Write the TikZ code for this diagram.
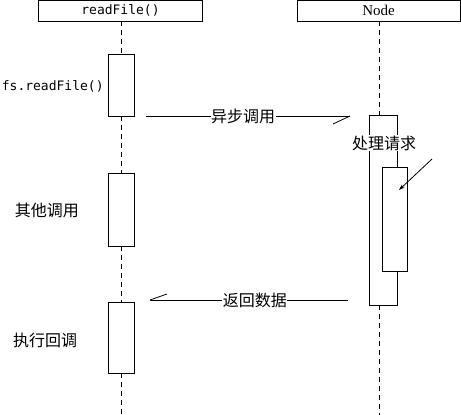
\documentclass[tikz,border=0pt]{standalone}
\usepackage{fontspec}
\setmainfont{Liberation Serif}
\newfontfamily\cjk{Noto Sans CJK SC}
\newfontfamily\monof{DejaVu Sans Mono}
\usetikzlibrary{arrows.meta,calc}
\begin{document}
\begin{tikzpicture}[x=1pt,y=-1pt,line width=0.8pt,
  headbox/.style={draw,minimum height=21pt,inner sep=0pt},
  actbox/.style={draw,fill=white,inner sep=0pt},
  life/.style={dash pattern=on 5pt off 4pt},
  cjklabel/.style={font=\cjk\fontsize{16}{18}\selectfont,inner sep=1pt},
  monolabel/.style={font=\monof\fontsize{13}{15}\selectfont,inner sep=0pt},
  msglabel/.style={cjklabel,fill=white,inner sep=0.5pt}]
\useasboundingbox (0,0) rectangle (461,415);
% heads
\node[headbox,minimum width=164pt,monolabel,minimum height=21pt] (rf) at (120.5,10.5) {readFile()};
\node[headbox,minimum width=163pt,font=\fontsize{15}{17}\selectfont] (nd) at (378.5,10.5) {Node};
% activation boxes left
\node[actbox,minimum width=26pt,minimum height=62pt] (a1) at (121,85) {};
\node[actbox,minimum width=26pt,minimum height=73pt] (a2) at (121,209.5) {};
\node[actbox,minimum width=26pt,minimum height=71pt] (a3) at (121,337.5) {};
% activation boxes right
\node[actbox,minimum width=28pt,minimum height=190pt] (n1) at (383,210) {};
\node[actbox,minimum width=25pt,minimum height=104pt] (n2) at (394.5,219) {};
% lifelines
\coordinate (lb) at (121,415);
\coordinate (ntop) at (379,115);
\coordinate (nbot) at (379,305);
\coordinate (rb) at (379,415);
\draw[life] (rf.south -| a1.north) -- (a1.north);
\draw[life] (a1.south) -- (a2.north);
\draw[life] (a2.south) -- (a3.north);
\draw[life] (a3.south) -- (lb);
\draw[life] (nd.south -| ntop) -- (ntop);
\draw[life] (nbot) -- (rb);
% left labels
\node[monolabel,anchor=east] (l1) at (104,86) {fs.readFile()};
\node[cjklabel] (l2) at (47,210) {其他调用};
\node[cjklabel] (l3) at (45,340) {执行回调};
% async call message
\coordinate (m1s) at (146,116);
\coordinate (m1e) at (350,116);
\coordinate (m1h) at (333,124);
\draw (m1s) -- node[msglabel,pos=0.476] (t1) {异步调用} (m1e);
\draw (m1h) -- (m1e);
% processing label
\node[msglabel,inner sep=1pt] (t2) at (384,143) {处理请求};
\coordinate (p1) at (432,159);
\coordinate (p2) at (399,190);
\draw[-{Stealth[length=6pt,width=4pt]}] (p1) -- (p2);
% return message
\coordinate (m2s) at (348,300);
\coordinate (m2e) at (150,300);
\coordinate (m2h) at (167,294);
\draw (m2s) -- node[msglabel,pos=0.47] (t3) {返回数据} (m2e);
\draw (m2h) -- (m2e);
\end{tikzpicture}
\end{document}
